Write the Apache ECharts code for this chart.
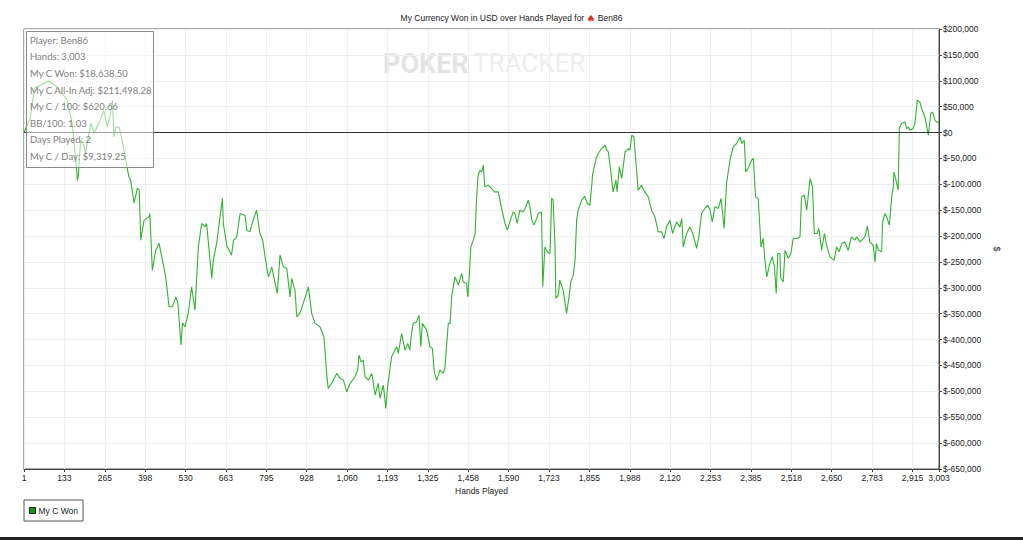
<!DOCTYPE html>
<html>
<head>
<meta charset="utf-8">
<script src="https://cdn.jsdelivr.net/npm/echarts@6/dist/echarts.min.js"></script>
<style>
html,body{margin:0;padding:0;background:#fff;}
#chart{width:1023px;height:540px;}
</style>
</head>
<body>
<div id="chart"></div>
<script>
// ---- data ----
const hands = [
1,21,34,39,56,80,94,110,143,159,171,176,179,187,195,203,220,231,240,251,263,274,285,291,296,302,313,322,335,345,351,362,373,379,384,395,411,414,422,433,444,455,466,477,488,499,506,
516,521,529,540,551,562,573,584,595,600,617,622,633,644,652,655,666,682,688,699,710,726,732,742,753,764,775,784,797,803,814,824,832,841,852,863,874,879,890,896,906,917,934,945,956,972,985,994,999,1010,1027,1038,1049,1060,1071,
1087,1096,1100,1107,1114,1120,1131,1142,1153,1163,1169,1180,1188,1194,1207,1218,1224,1229,1240,1251,1260,1267,1271,1278,1289,1297,1303,1308,1322,1333,1341,1347,1355,1366,1377,1382,1393,1399,1404,1415,1426,1437,1442,1453,1457,1461,1467,1475,1481,1486,1491,1497,1503,1508,1513,1524,1535,1544,1557,1568,1579,1587,1595,1606,
1612,1619,1628,1639,1645,1655,1661,1667,1674,1683,1688,1699,1703,1710,1718,1727,1732,1737,1743,1746,1754,1759,1770,1781,1790,1795,1803,1809,1814,1819,1831,1841,1849,1858,1867,1878,1885,1896,1907,1913,1918,1923,1934,1943,1947,1954,1962,1973,1984,1989,1995,2002,2009,2016,2027,2038,2049,2060,2071,2082,2093,2101,2109,2120,2129,2142,2153,
2159,2164,2175,2186,2197,2208,2215,2224,2235,2244,2252,2259,2268,2279,2288,2298,2306,2317,2328,2339,2350,2356,2364,2369,2377,2388,2394,2401,2410,2419,2426,2432,2438,2448,2456,2463,2469,2474,2481,2484,2492,2498,2508,2517,2525,2536,2547,2552,2561,2569,2580,2588,2594,2603,2609,2618,2627,2634,2645,2659,2667,2675,2684,2694,
2705,2716,2727,2733,2744,2760,2768,2776,2787,2793,2798,2804,2815,2818,2826,2833,2840,2848,2853,2855,2862,2869,2873,2880,2891,2897,2902,2908,2918,2924,2932,2940,2946,2957,2962,2968,2976,2982,2990,2995,3003
];
const won = [
0,27000,81700,88000,91300,99600,94600,88000,62400,17400,-53500,-92100,-84000,-14700,-21200,-40000,18000,-1400,10200,23700,43000,10800,36700,62400,-8500,10800,10200,-11000,-53500,-85700,-92100,-136500,-107500,-111400,-207900,-169300,-162900,-156400,-266400,-227800,-213700,-246600,-278800,-336700,-336700,-317400,-330100,
-410600,-368200,-375300,-348800,-298100,-343000,-220900,-175700,-182200,-175700,-281900,-246500,-214300,-162900,-127400,-175700,-217600,-236900,-208000,-201500,-156400,-159700,-188600,-191900,-169300,-150000,-195000,-208000,-259500,-278800,-259500,-288400,-310800,-236900,-259500,-262500,-317400,-281900,-304400,-356000,-349400,-330100,-298100,-349400,-368700,-375300,-394600,-465300,-494200,-484600,-465300,-474900,-478200,-500800,-484600,
-471800,-458900,-429900,-442900,-439600,-471800,-478200,-465300,-507100,-484600,-513500,-487800,-532800,-491100,-433200,-420300,-413900,-426600,-388000,-420300,-407300,-420300,-394600,-368700,-365600,-352700,-413900,-368700,-381700,-413900,-417000,-462200,-478200,-458900,-465300,-455600,-368700,-368700,-317400,-278800,-294800,-272200,-288400,-291500,-317400,-285100,-220900,-208000,-195000,-124300,-82400,-72800,-76100,-63100,-105000,-101700,-108100,-114700,-114700,-146700,-175700,-188600,-172600,-153300,
-156400,-175700,-150000,-153300,-146700,-130700,-143500,-169300,-178900,-166000,-156400,-153300,-298100,-220900,-230500,-233600,-127400,-130700,-217600,-320500,-314100,-285100,-304400,-349400,-314100,-288400,-275500,-246500,-169300,-150000,-130700,-123000,-137100,-140300,-79200,-50200,-40500,-30900,-24500,-34200,-37500,-59800,-114700,-92100,-114700,-66400,-88800,-37500,-30900,-34200,-5200,-8500,-59800,-111400,-101700,-114700,-124300,-150000,-162900,-191900,-191900,-204600,-182200,-169300,-195000,-172600,-182200,
-166000,-220900,-195000,-182200,-198400,-223900,-201500,-156400,-146700,-140300,-150000,-172600,-143500,-146700,-127400,-185300,-98500,-53500,-27800,-21200,-8500,-21200,-14900,-76100,-69500,-53500,-50200,-124300,-127400,-220900,-204600,-246500,-278800,-252900,-240200,-259500,-310800,-233600,-233600,-281900,-288400,-227400,-243200,-233600,-204600,-204600,-201500,-124300,-121000,-150000,-88800,-105000,-195000,-195000,-185300,-227400,-195000,-217600,-240200,-246500,-220900,-230500,-214300,-211200,
-227400,-201500,-208000,-201500,-211200,-201500,-180900,-211200,-217600,-249800,-214300,-227400,-230500,-172600,-156400,-166000,-178900,-124300,-105000,-76100,-92100,-111400,7700,17400,20500,7700,10800,4400,7700,17400,62400,59100,46300,30100,14100,-5200,36700,39800,23700,20500,18639
];
const xTickLabels = ['1','133','265','398','530','663','795','928','1,060','1,193','1,325','1,458','1,590','1,723','1,855','1,988','2,120','2,253','2,385','2,518','2,650','2,783','2,915','3,003'];
const yTickLabels = ['$200,000','$150,000','$100,000','$50,000','$0','$-50,000','$-100,000','$-150,000','$-200,000','$-250,000','$-300,000','$-350,000','$-400,000','$-450,000','$-500,000','$-550,000','$-600,000','$-650,000'];
const statLines = ['Player: Ben86','Hands: 3,003','My C Won: $18,638.50','My C All-In Adj: $211,498.28','My C / 100: $620.66','BB/100: 1.03','Days Played: 2','My C / Day: $9,319.25'];
const seriesName = 'My C Won';
const titleText = 'My Currency Won in USD over Hands Played for ';
const titlePlayer = ' Ben86';
const xName = 'Hands Played';
const yName = '$';

const chart = echarts.init(document.getElementById('chart'), null, {renderer: 'svg'});
const FONT = 'Liberation Sans, Arial, sans-serif';
const option = {
  animation: false,
  backgroundColor: '#ffffff',
  title: {
    text: '{t|' + titleText + '}{i|♠}{t|' + titlePlayer + '}',
    left: 'center',
    top: 8,
    textStyle: {
      fontWeight: 'normal',
      rich: {
        t: {fontSize: 8.5, color: '#222', fontFamily: FONT, fontWeight: 'normal'},
        i: {fontSize: 10, color: '#e03020', fontFamily: 'DejaVu Sans', fontWeight: 'normal'}
      }
    }
  },
  grid: {
    left: 24, right: 84, top: 29, bottom: 71,
    show: true, borderColor: '#555', borderWidth: 1, backgroundColor: 'transparent'
  },
  legend: {
    left: 24, top: 500,
    orient: 'horizontal',
    padding: [6, 5, 6, 5],
    borderColor: '#555', borderWidth: 1,
    itemWidth: 6, itemHeight: 6, itemGap: 4,
    icon: 'rect',
    textStyle: {fontSize: 8.5, color: '#222', fontFamily: FONT, padding: [0, 0, 0, -2]},
    data: [{name: seriesName, itemStyle: {color: '#129a12', borderColor: '#222', borderWidth: 1}}]
  },
  xAxis: {
    type: 'value',
    min: 1, max: 3003, interval: 132.5,
    name: xName, nameLocation: 'middle', nameGap: 16,
    nameTextStyle: {fontSize: 8.5, color: '#222', fontFamily: FONT},
    axisLine: {show: true, onZero: false, lineStyle: {color: '#444'}},
    axisTick: {show: true, length: 3, lineStyle: {color: '#444'}},
    axisLabel: {
      fontSize: 8.5, color: '#222', fontFamily: FONT, margin: 4,
      showMinLabel: true, showMaxLabel: true,
      formatter: function (v) {
        if (v <= 1) return xTickLabels[0];
        if (v >= 3003) return xTickLabels[xTickLabels.length - 1];
        return xTickLabels[Math.round(v / 132.5)];
      }
    },
    splitLine: {show: true, lineStyle: {color: '#eeeeee'}}
  },
  yAxis: {
    type: 'value',
    position: 'right',
    min: -650000, max: 200000, interval: 50000,
    name: yName, nameLocation: 'middle', nameGap: 48, nameRotate: -90,
    nameTextStyle: {fontSize: 9, color: '#222', fontFamily: FONT},
    axisLine: {show: true, lineStyle: {color: '#444'}},
    axisTick: {show: true, length: 3, lineStyle: {color: '#444'}},
    axisLabel: {
      fontSize: 8.5, color: '#222', fontFamily: FONT, margin: 4,
      formatter: function (v) { return yTickLabels[Math.round((200000 - v) / 50000)]; }
    },
    splitLine: {show: true, lineStyle: {color: '#eeeeee'}}
  },
  series: [{
    name: seriesName,
    type: 'line',
    showSymbol: false,
    symbol: 'none',
    data: hands.map((h, i) => [h, won[i]]),
    lineStyle: {color: '#33b233', width: 1.1},
    itemStyle: {color: '#129a12'},
    z: 3,
    markLine: {
      silent: true, symbol: 'none', label: {show: false},
      lineStyle: {color: '#333', type: 'solid', width: 1},
      data: [{yAxis: 0}]
    }
  }],
  graphic: [
    {type: 'group', left: 383, top: 50, z: 0, children: [
      {type: 'text', x: 0, y: 0, style: {text: 'POKER', fill: '#e4e4e4', font: 'bold 27px Roboto, sans-serif'}},
      {type: 'text', x: 90, y: 0, style: {text: 'TRACKER', fill: '#eeeeee', font: '26px Roboto, sans-serif'}}
    ]},
    {type: 'rect', z: 100, shape: {x: 26.5, y: 31.5, width: 127, height: 136},
     style: {fill: 'rgba(255,255,255,0.55)', stroke: '#8a8a8a', lineWidth: 1}},
    {type: 'text', z: 101, x: 30, y: 32,
     style: {text: statLines.join('\n'), fill: '#808080', font: '9.5px Lato, sans-serif', lineHeight: 16.6, verticalAlign: 'top'}},
    {type: 'rect', z: 100, shape: {x: 0, y: 537, width: 1023, height: 3}, style: {fill: '#222'}}
  ]
};
chart.setOption(option);
</script>
</body>
</html>
